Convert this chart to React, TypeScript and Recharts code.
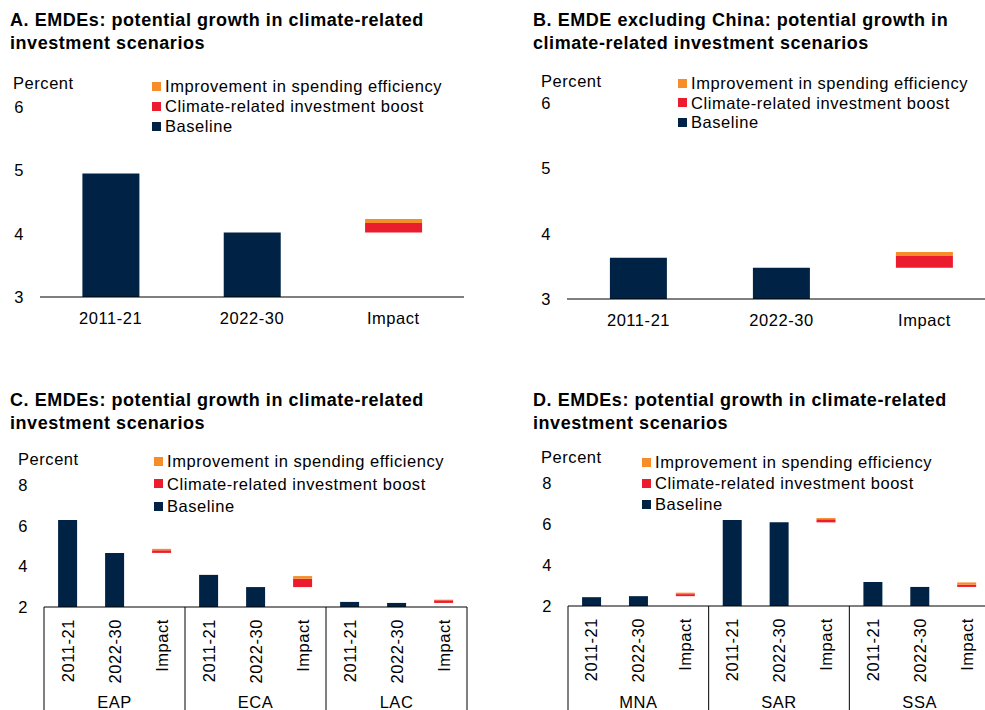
import React from 'react';
import { BarChart, Bar, XAxis, YAxis } from 'recharts';

const NAVY = '#002345';
const RED = '#EB1C2D';
const ORANGE = '#F78D28';
const FONT = '"Liberation Sans", Arial, Helvetica, sans-serif';
const FS = 16.5;
const LS = 0.55;

// Legend (top to bottom)
const legendLabels = ['Improvement in spending efficiency', 'Climate-related investment boost', 'Baseline'];
const legendColors = [ORANGE, RED, NAVY];

const periods = ['2011-21', '2022-30'];
const impactLabel = 'Impact';
const unitLabel = 'Percent';

// Panel A: EMDEs
const baselineA = [4.95, 4.02];
const boostA = 0.15;
const efficiencyA = 0.06;
const ticksA = [3, 4, 5, 6];

// Panel B: EMDE excluding China
const baselineB = [3.63, 3.48];
const boostB = 0.18;
const efficiencyB = 0.06;
const ticksB = [3, 4, 5, 6];

// Panel C: regions
const regionsC = ['EAP', 'ECA', 'LAC'];
const base2011C = [6.28, 3.58, 2.25];
const base2022C = [4.66, 2.98, 2.2];
const boostC = [0.13, 0.41, 0.13];
const efficiencyC = [0.07, 0.13, 0.03];
const ticksC = [2, 4, 6, 8];

// Panel D: regions
const regionsD = ['MNA', 'SAR', 'SSA'];
const base2011D = [2.43, 6.2, 3.17];
const base2022D = [2.48, 6.08, 2.93];
const boostD = [0.1, 0.15, 0.11];
const efficiencyD = [0.07, 0.06, 0.11];
const ticksD = [2, 4, 6, 8];

const titleA = ['A. EMDEs: potential growth in climate-related', 'investment scenarios'];
const titleB = ['B. EMDE excluding China: potential growth in', 'climate-related investment scenarios'];
const titleC = ['C. EMDEs: potential growth in climate-related', 'investment scenarios'];
const titleD = ['D. EMDEs: potential growth in climate-related', 'investment scenarios'];

function buildSimple(baseline: number[], boost: number, efficiency: number) {
  return [
    { key: periods[0], label: periods[0], baseline: baseline[0] },
    { key: periods[1], label: periods[1], baseline: baseline[1] },
    { key: impactLabel, label: impactLabel, offset: baseline[1], boost, efficiency },
  ];
}

function buildRegional(regions: string[], b11: number[], b22: number[], boost: number[], eff: number[]) {
  const rows: any[] = [];
  regions.forEach((r, i) => {
    rows.push({ key: `${r}|${periods[0]}`, region: r, label: periods[0], baseline: b11[i] });
    rows.push({ key: `${r}|${periods[1]}`, region: r, label: periods[1], baseline: b22[i] });
    rows.push({ key: `${r}|${impactLabel}`, region: r, label: impactLabel, offset: b22[i], boost: boost[i], efficiency: eff[i] });
  });
  return rows;
}

const dataA = buildSimple(baselineA, boostA, efficiencyA);
const dataB = buildSimple(baselineB, boostB, efficiencyB);
const dataC = buildRegional(regionsC, base2011C, base2022C, boostC, efficiencyC);
const dataD = buildRegional(regionsD, base2011D, base2022D, boostD, efficiencyD);

type ChartProps = {
  x: number; y: number; w: number; h: number;
  pl: number; pt: number; pr: number; pb: number;
  domain: [number, number]; ticks: number[]; data: any[]; grouped: boolean;
};

const textStyle = { letterSpacing: `${LS}px` };

function PanelChart({ x, y, w, h, pl, pt, pr, pb, domain, ticks, data, grouped }: ChartProps) {
  const yAxisWidth = pl - x;
  const marginTop = pt - y;
  const marginRight = x + w - pr;
  const xAxisHeight = y + h - pb;
  const axisY = pb - y;
  const step = (pr - pl) / data.length;

  const yTick = (props: any) => (
    <text x={yAxisWidth - 16} y={props.y} textAnchor="end" dominantBaseline="central"
      fontSize={FS} fill="#000" fontFamily={FONT} style={textStyle}>{props.payload.value}</text>
  );

  const simpleTick = (props: any) => {
    const idx = props.index ?? props.payload.index;
    const row = data[idx];
    return (
      <text x={props.x} y={axisY + 21} textAnchor="middle" dominantBaseline="central"
        fontSize={FS} fill="#000" fontFamily={FONT} style={textStyle}>{row ? row.label : props.payload.value}</text>
    );
  };

  const groupTick = (props: any) => {
    const idx = props.index ?? props.payload.index;
    const row = data[idx];
    const tx = props.x;
    const ty = axisY + 12;
    return (
      <g>
        <text x={tx} y={ty} transform={`rotate(-90, ${tx}, ${ty})`} textAnchor="end" dominantBaseline="central"
          fontSize={FS} fill="#000" fontFamily={FONT} style={textStyle}>{row.label}</text>
        {idx % 3 === 0 && (
          <line x1={tx - step / 2} x2={tx - step / 2} y1={axisY} y2={h} stroke="#000" strokeWidth={1} />
        )}
        {idx === data.length - 1 && (
          <line x1={tx + step / 2} x2={tx + step / 2} y1={axisY} y2={h} stroke="#000" strokeWidth={1} />
        )}
        {idx % 3 === 1 && (
          <text x={tx} y={h - 8.5} textAnchor="middle" dominantBaseline="central"
            fontSize={FS} fill="#000" fontFamily={FONT} style={textStyle}>{row.region}</text>
        )}
      </g>
    );
  };

  return (
    <div style={{ position: 'absolute', left: x, top: y, width: w, height: h }}>
      <BarChart width={w} height={h} data={data} barCategoryGap="30%"
        margin={{ top: marginTop, right: marginRight, bottom: 0, left: 0 }}>
        <XAxis dataKey="key" height={xAxisHeight} interval={0} tickLine={false}
          axisLine={{ stroke: '#000', strokeWidth: 1 }} tick={grouped ? groupTick : simpleTick} />
        <YAxis type="number" width={yAxisWidth} domain={domain} ticks={ticks} allowDataOverflow
          axisLine={false} tickLine={false} tick={yTick} />
        <Bar dataKey="baseline" stackId="s" fill={NAVY} isAnimationActive={false} />
        <Bar dataKey="offset" stackId="s" fill="transparent" isAnimationActive={false} />
        <Bar dataKey="boost" stackId="s" fill={RED} isAnimationActive={false} />
        <Bar dataKey="efficiency" stackId="s" fill={ORANGE} isAnimationActive={false} />
      </BarChart>
    </div>
  );
}

function Title({ x, y, lines }: { x: number; y: number; lines: string[] }) {
  return (
    <div style={{ position: 'absolute', left: x, top: y, fontFamily: FONT, fontWeight: 'bold',
      fontSize: 18, lineHeight: '23px', letterSpacing: '0.55px', color: '#000', whiteSpace: 'nowrap' }}>
      {lines.map((l, i) => <div key={i}>{l}</div>)}
    </div>
  );
}

function Legend({ x, y, gap }: { x: number; y: number; gap: number }) {
  return (
    <>
      {legendLabels.map((lab, i) => (
        <div key={lab} style={{ position: 'absolute', left: x, top: y + i * gap - 10, height: 20,
          display: 'flex', alignItems: 'center', fontFamily: FONT, fontSize: FS, lineHeight: '20px',
          letterSpacing: `${LS}px`, color: '#000', whiteSpace: 'nowrap' }}>
          <span style={{ display: 'inline-block', width: 9, height: 9, background: legendColors[i], marginRight: 4 }} />
          <span>{lab}</span>
        </div>
      ))}
    </>
  );
}

function Unit({ x, y }: { x: number; y: number }) {
  return (
    <div style={{ position: 'absolute', left: x, top: y - 10, fontFamily: FONT, fontSize: FS,
      lineHeight: '20px', letterSpacing: `${LS}px`, color: '#000' }}>{unitLabel}</div>
  );
}

export default function App() {
  return (
    <div style={{ position: 'absolute', left: 0, top: 0, width: 985, height: 710, overflow: 'hidden', background: '#fff' }}>
      <Title x={10} y={9} lines={titleA} />
      <Title x={533} y={9} lines={titleB} />
      <Title x={10} y={389} lines={titleC} />
      <Title x={533} y={389} lines={titleD} />

      <PanelChart x={0} y={60} w={480} h={300} pl={40} pt={107} pr={464} pb={297}
        domain={[3, 6]} ticks={ticksA} data={dataA} grouped={false} />
      <PanelChart x={520} y={60} w={480} h={300} pl={567} pt={103} pr={996} pb={299}
        domain={[3, 6]} ticks={ticksB} data={dataB} grouped={false} />
      <PanelChart x={0} y={440} w={480} h={270} pl={44} pt={485} pr={467} pb={607}
        domain={[2, 8]} ticks={ticksC} data={dataC} grouped={true} />
      <PanelChart x={520} y={440} w={480} h={270} pl={568} pt={483} pr={990} pb={606}
        domain={[2, 8]} ticks={ticksD} data={dataD} grouped={true} />

      <Unit x={13} y={83} />
      <Unit x={541} y={81} />
      <Unit x={18} y={459} />
      <Unit x={541} y={457} />

      <Legend x={152} y={86} gap={20} />
      <Legend x={678} y={83} gap={19.5} />
      <Legend x={154} y={461} gap={22.5} />
      <Legend x={642} y={462} gap={21} />
    </div>
  );
}
